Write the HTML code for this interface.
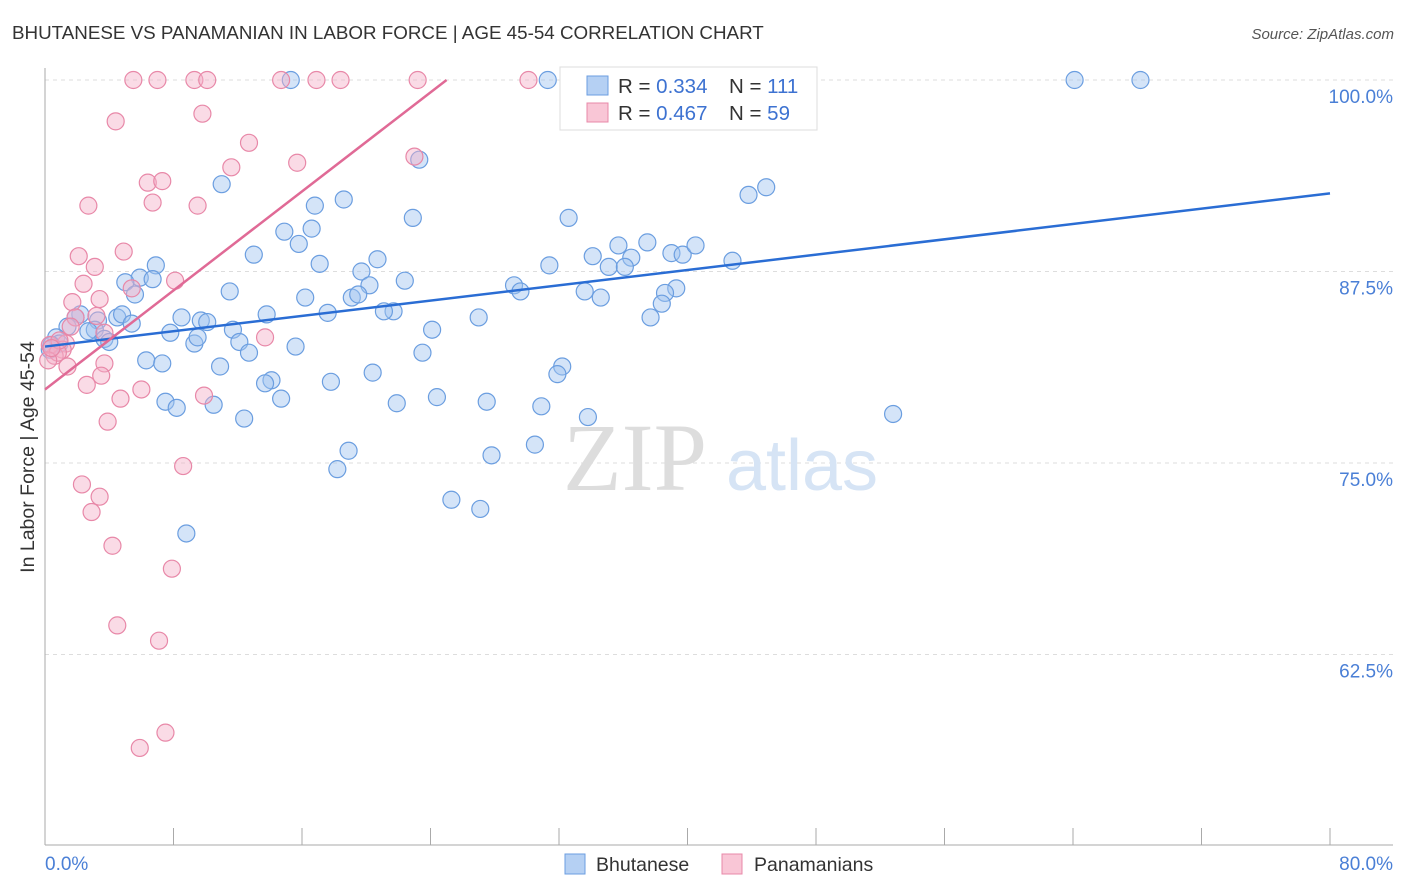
<!DOCTYPE html>
<html><head><meta charset="utf-8"><style>
body{margin:0;background:#fff;font-family:"Liberation Sans",sans-serif}
svg{display:block}
</style></head><body>
<svg id="chart" width="1406" height="892" viewBox="0 0 1406 892" xmlns="http://www.w3.org/2000/svg">
<text x="12" y="39" font-size="18.8" fill="#333">BHUTANESE VS PANAMANIAN IN LABOR FORCE | AGE 45-54 CORRELATION CHART</text>
<text x="1394" y="39" font-size="15" fill="#555" font-style="italic" text-anchor="end">Source: ZipAtlas.com</text>
<g id="grid"></g>
<text x="635" y="490" font-size="96" fill="#ddd" font-family="Liberation Serif,serif" text-anchor="middle">ZIP</text>
<text x="802" y="490" font-size="72" fill="#d6e4f5" text-anchor="middle">atlas</text>
<g id="pts"></g>
<g id="lines"></g>
<text transform="translate(34,457) rotate(-90)" font-size="19.5" fill="#333" text-anchor="middle">In Labor Force | Age 45-54</text>
<text x="45" y="870" font-size="19" fill="#4a7fd6">0.0%</text>
<text x="1393" y="870" font-size="19" fill="#4a7fd6" text-anchor="end">80.0%</text>
<g>
<rect x="560" y="67" width="257" height="63" fill="#fff" stroke="#ddd"/>
<rect x="587" y="76" width="21" height="19" fill="#b5d0f3" stroke="#6b9ee0"/>
<rect x="587" y="103" width="21" height="19" fill="#f9c6d6" stroke="#e888a8"/>
<text x="618" y="93" font-size="20.5" fill="#333">R = <tspan fill="#3d72d1">0.334</tspan><tspan x="729">N = </tspan><tspan fill="#3d72d1">111</tspan></text>
<text x="618" y="120" font-size="20.5" fill="#333">R = <tspan fill="#3d72d1">0.467</tspan><tspan x="729">N = </tspan><tspan fill="#3d72d1">59</tspan></text>
</g>
<g><rect x="565" y="854" width="20" height="20" fill="#b5d0f3" stroke="#6b9ee0"/><text x="596" y="871" font-size="19.5" fill="#333">Bhutanese</text></g>
<g><rect x="722" y="854" width="20" height="20" fill="#f9c6d6" stroke="#e888a8"/><text x="754" y="871" font-size="19.5" fill="#333">Panamanians</text></g>
</svg>
<script>
const yTicks=[100,87.5,75,62.5];
const yTickLabels=["100.0%","87.5%","75.0%","62.5%"];
const xTicks=[0,8,16,24,32,40,48,56,64,72,80];
const blueX=[15.3,31.3,64.1,68.2,23.3,11.0,44.9,43.8,18.6,16.8,22.9,32.6,14.9,16.6,15.8,35.7,37.5,34.1,13.0,39.0,39.7,40.5,36.5,35.1,36.1,42.8,31.4,20.7,17.1,6.9,5.9,5.0,6.7,19.7,22.4,29.2,29.6,33.6,20.2,39.3,38.6,34.6,11.5,5.6,16.2,19.1,19.5,38.4,13.8,17.6,21.7,21.1,27.0,37.7,8.5,9.7,10.1,4.5,4.8,2.2,1.9,3.3,5.4,11.7,7.8,3.1,2.7,1.4,3.7,12.1,9.3,9.5,24.1,15.6,4.0,12.7,23.5,0.7,0.9,6.3,7.3,10.9,20.4,32.2,31.9,17.8,14.1,13.7,14.7,7.5,8.2,10.5,21.9,24.4,27.5,30.9,33.8,12.4,52.8,18.9,18.2,30.5,27.8,25.3,27.1,8.8,0.3,0.4];
const blueY=[100,100,100,100,94.8,93.2,93.0,92.5,92.2,91.8,91.0,91.0,90.1,90.3,89.3,89.2,89.4,88.5,88.6,88.7,88.6,89.2,88.4,87.8,87.8,88.2,87.9,88.3,88.0,87.9,87.1,86.8,87.0,87.5,86.9,86.6,86.2,86.2,86.6,86.4,86.1,85.8,86.2,86.0,85.8,85.8,86.0,85.4,84.7,84.8,84.9,84.9,84.5,84.5,84.5,84.3,84.2,84.5,84.7,84.7,84.5,84.3,84.1,83.7,83.5,83.7,83.6,83.9,83.1,82.9,82.8,83.2,83.7,82.6,82.9,82.2,82.2,83.2,82.8,81.7,81.5,81.3,80.9,81.3,80.8,80.3,80.4,80.2,79.2,79.0,78.6,78.8,78.9,79.3,79.0,78.7,78.0,77.9,78.2,75.8,74.6,76.2,75.5,72.6,72.0,70.4,82.4,82.7];
const pinkX=[5.5,7.0,9.3,10.1,14.7,16.9,18.4,23.2,30.1,9.8,4.4,12.7,11.6,15.7,23.0,6.4,7.3,6.7,9.5,2.7,4.9,2.1,3.1,8.1,2.4,1.7,3.4,5.4,1.9,3.2,1.6,3.7,1.3,1.1,0.6,0.3,0.8,1.4,3.7,3.5,2.6,6.0,4.7,9.9,13.7,3.9,2.3,3.4,2.9,8.6,4.2,7.9,4.5,7.1,7.5,5.9,0.9,0.2,0.4];
const pinkY=[100,100,100,100,100,100,100,100,100,97.8,97.3,95.9,94.3,94.6,95.0,93.3,93.4,92.0,91.8,91.8,88.8,88.5,87.8,86.9,86.7,85.5,85.7,86.4,84.5,84.6,83.9,83.5,82.8,82.4,82.0,82.7,82.2,81.3,81.5,80.7,80.1,79.8,79.2,79.4,83.2,77.7,73.6,72.8,71.8,74.8,69.6,68.1,64.4,63.4,57.4,56.4,83.0,81.7,82.5];
const blueTrend=[82.6,92.6]; // y at x=0, x=80
const pinkTrend=[79.8,100]; // y at x=0, x=25
const pinkTrendEnd=25;
const NS="http://www.w3.org/2000/svg";
const sx=v=>45+v/80*1285;
const sy=v=>80+(100-v)/12.5*191.5;
function mk(tag,attrs,parent){const e=document.createElementNS(NS,tag);for(const k in attrs)e.setAttribute(k,attrs[k]);parent.appendChild(e);return e;}
const grid=document.getElementById('grid');
yTicks.forEach((t,i)=>{
  const l=mk('line',{x1:45,x2:1393,y1:sy(t),y2:sy(t),stroke:'#ddd','stroke-dasharray':'4,4'},grid);
  
  
  const tx=mk('text',{x:1393,y:sy(t)+23,'font-size':19,fill:'#4a7fd6','text-anchor':'end'},grid);
  tx.textContent=yTickLabels[i];
  
  
});
const ax=mk('line',{x1:45,x2:45,y1:68,y2:845,stroke:'#aaa'},grid);


const bx=mk('line',{x1:45,x2:1393,y1:845,y2:845,stroke:'#aaa'},grid);


xTicks.forEach(t=>{
  const l=mk('line',{x1:sx(t),x2:sx(t),y1:828,y2:845,stroke:'#aaa'},grid);
  
  
});
const pts=document.getElementById('pts');
blueX.forEach((x,i)=>{
  const c=mk('circle',{cx:sx(x),cy:sy(blueY[i]),r:8.5,fill:'rgba(160,195,240,0.45)',stroke:'#6b9ee0','stroke-width':1.2},pts);
  
  
});
pinkX.forEach((x,i)=>{
  const c=mk('circle',{cx:sx(x),cy:sy(pinkY[i]),r:8.5,fill:'rgba(245,175,200,0.45)',stroke:'#e888a8','stroke-width':1.2},pts);
  
  
});
const lines=document.getElementById('lines');
const bl=mk('line',{x1:sx(0),y1:sy(blueTrend[0]),x2:sx(80),y2:sy(blueTrend[1]),stroke:'#2a6dd4','stroke-width':2.5},lines);


const pl=mk('line',{x1:sx(0),y1:sy(pinkTrend[0]),x2:sx(pinkTrendEnd),y2:sy(pinkTrend[1]),stroke:'#e06a96','stroke-width':2.5},lines);


</script>
</body></html>
